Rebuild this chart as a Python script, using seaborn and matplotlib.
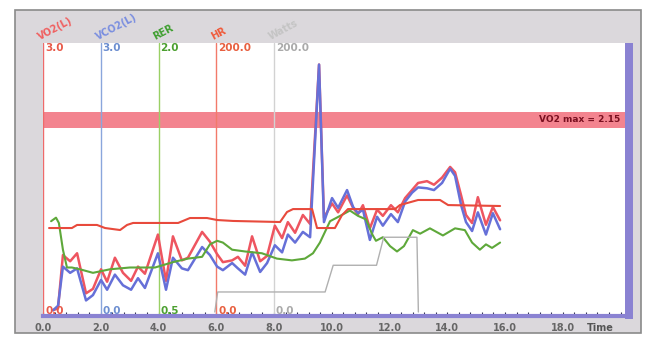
import matplotlib
matplotlib.use("Agg")
import matplotlib.pyplot as plt
from matplotlib.patches import Rectangle
from matplotlib.ticker import MultipleLocator
import seaborn as sns
import pandas as pd

# ---------------- data ----------------
t_gas = [0.35, 0.52, 0.69, 0.94, 1.18, 1.49, 1.73, 2.01, 2.22, 2.49, 2.77, 3.05, 3.29, 3.53,
         3.98, 4.26, 4.50, 4.81, 5.02, 5.51, 5.78, 6.03, 6.23, 6.55, 6.75, 7.00, 7.24, 7.52,
         7.76, 8.03, 8.28, 8.48, 8.73, 9.00, 9.25, 9.56, 9.73, 10.01, 10.22, 10.53, 10.74,
         10.91, 11.08, 11.32, 11.57, 11.77, 12.05, 12.29, 12.54, 12.78, 12.99, 13.30, 13.54,
         13.82, 14.10, 14.27, 14.48, 14.65, 14.86, 15.06, 15.34, 15.58, 15.83]
vo2 = [0.02, 0.04, 0.64, 0.57, 0.66, 0.21, 0.26, 0.48, 0.34, 0.61, 0.44, 0.35, 0.51, 0.43,
       0.87, 0.35, 0.85, 0.58, 0.61, 0.90, 0.79, 0.65, 0.56, 0.58, 0.62, 0.52, 0.85, 0.57,
       0.63, 0.97, 0.83, 1.01, 0.89, 1.09, 0.99, 2.78, 1.06, 1.22, 1.12, 1.31, 1.17,
       1.10, 1.20, 0.94, 1.15, 1.08, 1.20, 1.12, 1.28, 1.37, 1.45, 1.47, 1.43,
       1.51, 1.63, 1.57, 1.31, 1.09, 1.00, 1.29, 0.98, 1.18, 1.03]
vco2 = [0.02, 0.07, 0.51, 0.44, 0.49, 0.13, 0.19, 0.36, 0.25, 0.42, 0.30, 0.25, 0.38, 0.27,
        0.66, 0.25, 0.61, 0.49, 0.47, 0.73, 0.64, 0.51, 0.47, 0.55, 0.49, 0.42, 0.67, 0.45,
        0.55, 0.75, 0.67, 0.87, 0.78, 0.90, 0.84, 2.78, 1.01, 1.28, 1.17, 1.37, 1.18,
        1.11, 1.15, 0.81, 1.07, 0.97, 1.10, 1.01, 1.24, 1.34, 1.40, 1.39, 1.37,
        1.45, 1.61, 1.53, 1.20, 1.01, 0.91, 1.12, 0.87, 1.11, 0.93]

t_rer = [0.28, 0.45, 0.55, 0.69, 0.83, 1.00, 1.28, 1.73, 2.32, 3.01, 3.88, 4.50, 5.02, 5.51,
         5.78, 6.03, 6.23, 6.55, 7.00, 7.58, 8.10, 8.62, 9.07, 9.35, 9.59, 9.94, 10.29,
         10.63, 10.91, 11.19, 11.39, 11.53, 11.77, 12.02, 12.26, 12.50, 12.81, 13.06, 13.40,
         13.85, 14.27, 14.61, 14.86, 15.13, 15.34, 15.55, 15.83]
rer = [1.01, 1.03, 1.00, 0.85, 0.75, 0.75, 0.74, 0.72, 0.74, 0.75, 0.75, 0.78, 0.80, 0.81,
       0.88, 0.90, 0.89, 0.85, 0.84, 0.83, 0.80, 0.79, 0.80, 0.83, 0.89, 1.01, 1.04,
       1.07, 1.04, 1.02, 0.94, 0.90, 0.92, 0.87, 0.84, 0.87, 0.96, 0.94, 0.97,
       0.93, 0.97, 0.96, 0.89, 0.85, 0.88, 0.86, 0.89]

t_hr = [0.21, 1.00, 1.18, 1.87, 2.15, 2.67, 2.91, 3.12, 4.68, 5.09, 5.68, 6.03, 6.58, 8.21,
        8.45, 8.66, 9.32, 9.49, 10.11, 10.35, 10.56, 12.19, 12.36, 12.99, 13.75, 14.03, 15.83]
hr = [62.9, 62.9, 65.2, 65.2, 62.9, 61.4, 65.2, 66.7, 66.7, 70.4, 70.4, 68.9, 68.2, 67.4,
      74.9, 77.1, 77.1, 62.9, 62.9, 72.4, 77.1, 77.1, 80.1, 83.9, 83.9, 80.1, 79.4]

t_watts = [5.95, 6.05, 9.77, 10.05, 11.55, 11.80, 12.95, 13.00]
watts = [0, 15, 15, 35, 35, 56, 56, 0]

vo2_max = 2.15
time_ticks = [0, 2, 4, 6, 8, 10, 12, 14, 16, 18]
time_labels = ["0.0", "2.0", "4.0", "6.0", "8.0", "10.0", "12.0", "14.0", "16.0", "18.0"]

axis_names = ["VO2(L)", "VCO2(L)", "RER", "HR", "Watts"]
axis_pos = [0, 2, 4, 6, 8]
axis_top = ["3.0", "3.0", "2.0", "200.0", "200.0"]
axis_bottom = ["0.0", "0.0", "0.5", "0.0", "0.0"]
axis_ranges = [(0.0, 3.0), (0.0, 3.0), (0.5, 2.0), (0.0, 200.0), (0.0, 200.0)]

# ---------------- styling ----------------
sns.set_theme(style="white")
plt.rcParams["font.family"] = ["DejaVu Sans"]

W, H = 652, 343
fig = plt.figure(figsize=(W / 100, H / 100), dpi=100)
fig.patch.set_facecolor("white")


def fx(px):
    return px / W


def fy(py):
    return 1 - py / H


frame = Rectangle((fx(15), fy(333)), fx(641) - fx(15), fy(10) - fy(333),
                  transform=fig.transFigure, facecolor="#dbd8dc",
                  edgecolor="#8a8a8a", lw=1.2, zorder=-1)
fig.patches.append(frame)

ax_top_px, ax_bot_px = 43, 316
data_top_px, data_bot_px = 45, 312
ax = fig.add_axes([fx(43), fy(ax_bot_px), fx(625) - fx(43), fy(ax_top_px) - fy(ax_bot_px)])
ax.set_facecolor("white")


def lims(lo, hi):
    per = (hi - lo) / (data_bot_px - data_top_px)
    return lo - (ax_bot_px - data_bot_px) * per, hi + (data_top_px - ax_top_px) * per


xlim = (0, (625 - 43) / 28.875)

line_cols = ["#ef6a6a", "#8aa6dc", "#9ad065", "#f27a6a", "#d2d2d2"]
label_cols = ["#f06060", "#7a8ee0", "#3f9f30", "#f05a3a", "#c4c4c4"]
val_cols = ["#e85a4a", "#6c8ed0", "#4ca030", "#e86040", "#aaaaaa"]

# main axis (VO2 / VCO2)
ax.set_xlim(*xlim)
ax.set_ylim(*lims(*axis_ranges[0]))
ax.axhspan(vo2_max - 0.08, vo2_max + 0.10, color="#f3848f", lw=0, zorder=1)
for xp, c in zip(axis_pos, line_cols):
    ax.axvline(xp, color=c, lw=1.0, zorder=2)

df_gas = pd.DataFrame({"t": t_gas, "vo2": vo2, "vco2": vco2})
sns.lineplot(data=df_gas, x="t", y="vo2", ax=ax, color="#ee5560", lw=1.8,
             estimator=None, sort=False, zorder=4)
sns.lineplot(data=df_gas, x="t", y="vco2", ax=ax, color="#6670d8", lw=1.8,
             estimator=None, sort=False, zorder=5)


def twin(rng):
    a = ax.twinx()
    a.set_ylim(*lims(*rng))
    a.set_xlim(*xlim)
    a.set_axis_off()
    return a


ax_rer = twin(axis_ranges[2])
sns.lineplot(x=t_rer, y=rer, ax=ax_rer, color="#5ea83a", lw=1.5, estimator=None, sort=False)
ax_hr = twin(axis_ranges[3])
sns.lineplot(x=t_hr, y=hr, ax=ax_hr, color="#e84a3c", lw=1.5, estimator=None, sort=False)
ax_w = twin(axis_ranges[4])
sns.lineplot(x=t_watts, y=watts, ax=ax_w, color="#b0b0b0", lw=1.0, estimator=None, sort=False)

# axes / ticks
for s in ["top", "left", "right"]:
    ax.spines[s].set_visible(False)
ax.spines["bottom"].set_color("#8a82d2")
ax.spines["bottom"].set_linewidth(3)
ax.set_yticks([])
ax.set_xticks(time_ticks)
ax.set_xticklabels(time_labels)
ax.xaxis.set_minor_locator(MultipleLocator(0.4))
ax.tick_params(axis="x", which="both", direction="in", color="#333355",
               bottom=True, length=3, width=0.8, pad=5, labelsize=7,
               labelcolor="#666666")
for lab in ax.get_xticklabels():
    lab.set_fontweight("bold")
ax.set_xlabel("")
ax.set_ylabel("")

# right purple bar
fig.patches.append(Rectangle((fx(625), fy(319)), fx(8), fy(43) - fy(319),
                             transform=fig.transFigure, facecolor="#8a82d2",
                             edgecolor="none", zorder=5))

# texts
for xp, name, top, bot, lc, vc in zip(axis_pos, axis_names, axis_top, axis_bottom,
                                      label_cols, val_cols):
    px = 43 + xp * 28.875
    fig.text(fx(px - 3), fy(40), name, rotation=28, rotation_mode="anchor",
             ha="left", va="baseline", color=lc, fontsize=7, fontweight="bold")
    fig.text(fx(px + 2), fy(48), top, ha="left", va="center", color=vc,
             fontsize=7.5, fontweight="bold")
    fig.text(fx(px + 2), fy(311), bot, ha="left", va="center", color=vc,
             fontsize=7.5, fontweight="bold")

fig.text(fx(620), fy(120), f"VO2 max = {vo2_max:.2f}", ha="right", va="center",
         color="#7a1020", fontsize=6.5, fontweight="bold")
fig.text(fx(600), fy(328), "Time", ha="center", va="center", color="#555555",
         fontsize=7, fontweight="bold")

fig.savefig("out.png", dpi=100)
